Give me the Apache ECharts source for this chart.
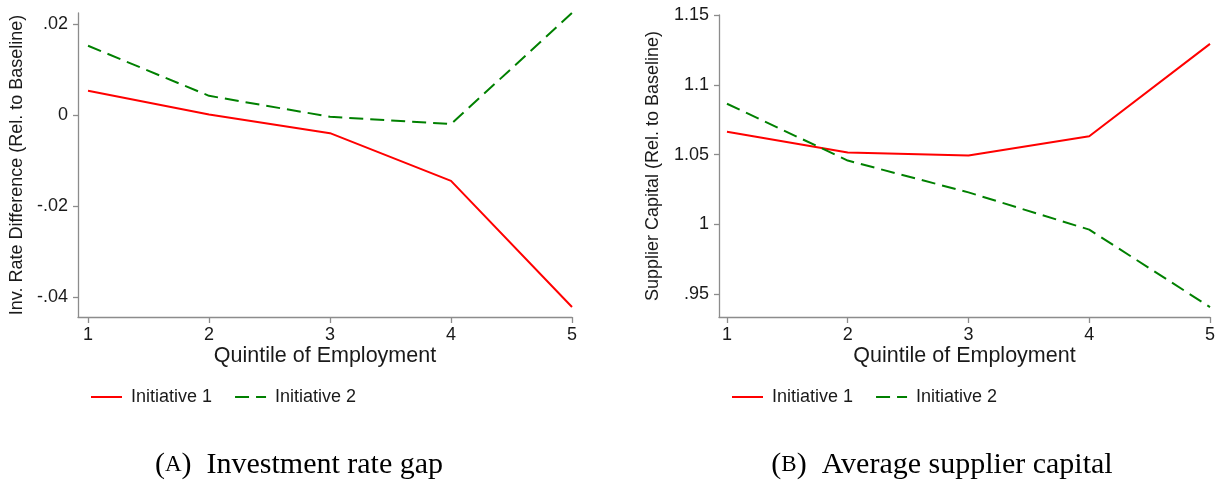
<!DOCTYPE html>
<html>
<head>
<meta charset="utf-8">
<script src="https://cdn.jsdelivr.net/npm/echarts@6/dist/echarts.min.js"></script>
<style>
  html, body { margin: 0; padding: 0; background: #fff; }
  #chart { width: 1225px; height: 481px; }
</style>
</head>
<body>
<div id="chart"></div>
<script>
// Employment quintiles on the x axis
const quintiles = [1, 2, 3, 4, 5];

// Panel A: investment rate difference relative to baseline
const invGap1 = [0.0053, 0.0001, -0.0040, -0.0145, -0.0422];
const invGap2 = [0.0152, 0.0042, -0.0004, -0.0020, 0.0224];
const invTicks = [-0.04, -0.02, 0, 0.02];

// Panel B: supplier capital relative to baseline
const capital1 = [1.0664, 1.0514, 1.0493, 1.0631, 1.1293];
const capital2 = [1.0864, 1.0457, 1.0229, 0.9962, 0.9407];
const capTicks = [0.95, 1, 1.05, 1.1, 1.15];

const seriesNames = ['Initiative 1', 'Initiative 2'];

const RED = '#ff0000';
const GREEN = '#008000';
const AXIS = '#8c8c8c';
const TEXT = '#1a1a1a';
const SANS = '"Liberation Sans", Arial, sans-serif';
const SERIF = '"Liberation Serif", "DejaVu Serif", serif';

// Stata-style tick labels: drop the leading zero
function stataNum(v) {
  const r = Math.round(v * 10000) / 10000;
  let s = String(r);
  s = s.replace(/^0\./, '.').replace(/^-0\./, '-.');
  return s;
}

function pairs(xs, ys) { return xs.map((x, i) => [x, ys[i]]); }

function xAxisFor(gridIndex, min) {
  return {
    type: 'value', gridIndex, min, max: 5,
    name: 'Quintile of Employment', nameLocation: 'middle', nameGap: 28, nameMoveOverlap: false,
    nameTextStyle: { fontFamily: SANS, fontSize: 21.5, color: TEXT },
    axisLine: { show: true, onZero: false, lineStyle: { color: AXIS, width: 1.3 } },
    axisTick: { show: true, customValues: quintiles, length: 6, lineStyle: { color: AXIS, width: 1.3 } },
    axisLabel: { customValues: quintiles, fontFamily: SANS, fontSize: 18, color: TEXT, margin: 9 },
    splitLine: { show: false }
  };
}

function yAxisFor(gridIndex, min, max, ticks, name, gap) {
  return {
    type: 'value', gridIndex, min, max,
    name, nameLocation: 'middle', nameGap: gap, nameRotate: 90,
    nameTextStyle: { fontFamily: SANS, fontSize: 18, color: TEXT },
    axisLine: { show: true, onZero: false, lineStyle: { color: AXIS, width: 1.3 } },
    axisTick: { show: true, customValues: ticks, length: 5, lineStyle: { color: AXIS, width: 1.3 } },
    axisLabel: { customValues: ticks, formatter: stataNum, fontFamily: SANS, fontSize: 18, color: TEXT, margin: 10 },
    splitLine: { show: false }
  };
}

function lineSeries(name, xi, yi, data, color, dashed) {
  return {
    name, type: 'line', xAxisIndex: xi, yAxisIndex: yi,
    data, symbol: 'none', animation: false,
    lineStyle: { color, width: 2, type: dashed ? [14, 7] : 'solid' },
    itemStyle: { color }
  };
}

function legendFor(left) {
  return {
    left, top: 383, data: seriesNames, itemWidth: 31, itemHeight: 14, itemGap: 22,
    itemStyle: { opacity: 0 },
    textStyle: { fontFamily: SANS, fontSize: 18, color: TEXT, padding: [0, 0, 0, 4] },
    selectedMode: false
  };
}

function caption(letter, text, centerX) {
  return {
    text: '{p|(}{s|' + letter + '}{p|)  ' + text + '}',
    left: centerX, top: 445, textAlign: 'center',
    textStyle: {
      rich: {
        p: { fontFamily: SERIF, fontSize: 30, fontWeight: 'normal', color: '#000' },
        s: { fontFamily: SERIF, fontSize: 23, fontWeight: 'normal', color: '#000' }
      }
    }
  };
}

const chart = echarts.init(document.getElementById('chart'), null, { renderer: 'canvas' });
chart.setOption({
  backgroundColor: '#fff',
  animation: false,
  title: [caption('A', 'Investment rate gap', 294), caption('B', 'Average supplier capital', 937)],
  legend: [legendFor(85), legendFor(726)],
  grid: [
    { left: 78, top: 13, width: 494, height: 304 },
    { left: 719, top: 15, width: 491, height: 302 }
  ],
  xAxis: [xAxisFor(0, 0.917), xAxisFor(1, 0.934)],
  yAxis: [
    yAxisFor(0, -0.0444, 0.0224, invTicks, 'Inv. Rate Difference (Rel. to Baseline)', 52),
    yAxisFor(1, 0.9336, 1.15, capTicks, 'Supplier Capital (Rel. to Baseline)', 57)
  ],
  series: [
    lineSeries(seriesNames[0], 0, 0, pairs(quintiles, invGap1), RED, false),
    lineSeries(seriesNames[1], 0, 0, pairs(quintiles, invGap2), GREEN, true),
    lineSeries(seriesNames[0], 1, 1, pairs(quintiles, capital1), RED, false),
    lineSeries(seriesNames[1], 1, 1, pairs(quintiles, capital2), GREEN, true)
  ]
});
</script>
</body>
</html>
